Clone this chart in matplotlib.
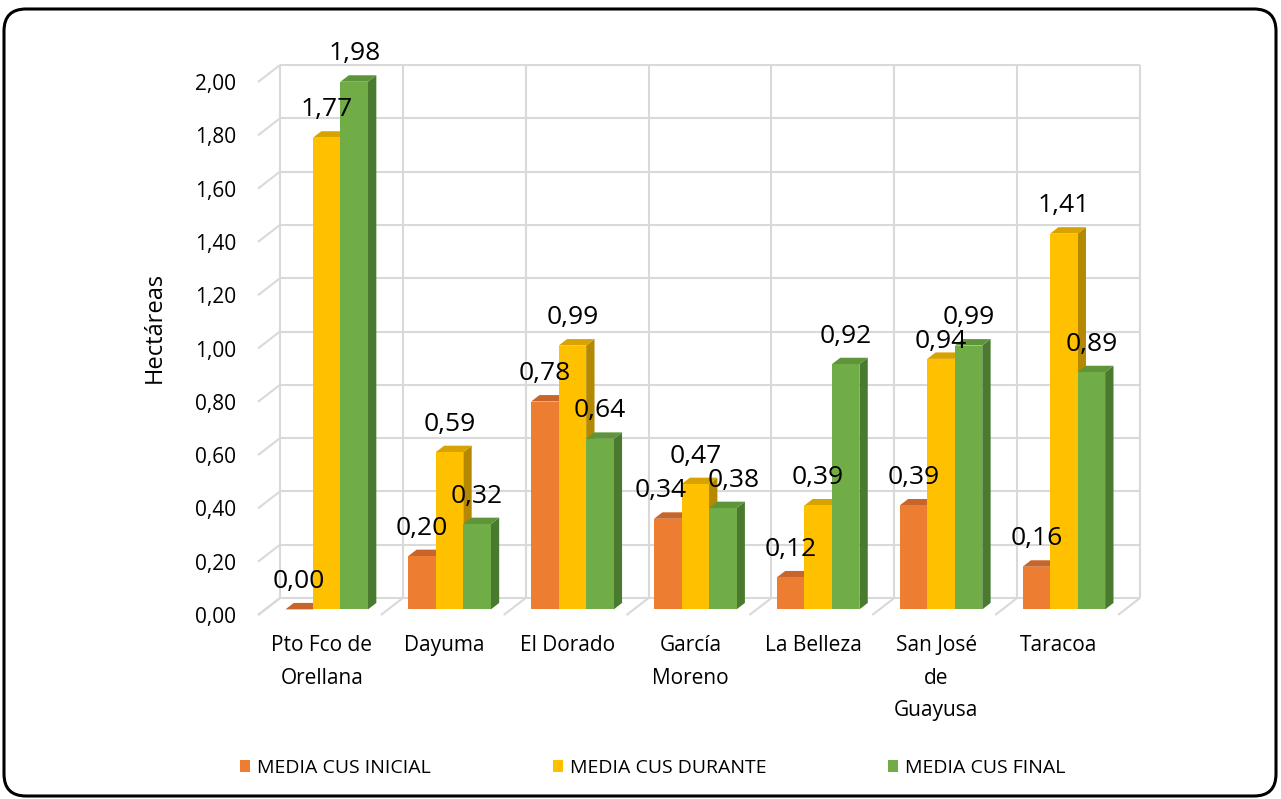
import matplotlib
matplotlib.use("Agg")
import matplotlib.pyplot as plt
from matplotlib.patches import Polygon, Rectangle, FancyBboxPatch
import numpy as np

# ---- data -------------------------------------------------------------
categories = ["Pto Fco de\nOrellana", "Dayuma", "El Dorado", "García\nMoreno",
              "La Belleza", "San José\nde\nGuayusa", "Taracoa"]
series_names = ["MEDIA CUS INICIAL", "MEDIA CUS DURANTE", "MEDIA CUS FINAL"]
cus_inicial = [0.00, 0.20, 0.78, 0.34, 0.12, 0.39, 0.16]
cus_durante = [1.77, 0.59, 0.99, 0.47, 0.39, 0.94, 1.41]
cus_final = [1.98, 0.32, 0.64, 0.38, 0.92, 0.99, 0.89]
y_ticks = [0.0, 0.2, 0.4, 0.6, 0.8, 1.0, 1.2, 1.4, 1.6, 1.8, 2.0]
y_label = "Hectáreas"

series = [cus_inicial, cus_durante, cus_final]
front_colors = ["#ED7D31", "#FFC000", "#70AD47"]
top_colors = ["#C8652A", "#D8A300", "#5E953B"]
side_colors = ["#AC531E", "#B48800", "#4A7A2F"]

# small nudges (category units, hectares) that keep crowded value labels apart
label_nudge = {(3, 0): (-0.06, 0.0), (3, 2): (0.09, 0.0), (5, 1): (0.0, -0.04)}

FONT = "Open Sans"
plt.rcParams["font.family"] = [FONT, "DejaVu Sans"]

W, H, DPI = 1281, 799, 100
fig = plt.figure(figsize=(W / DPI, H / DPI), dpi=DPI)
fig.patch.set_facecolor("white")

# scale of the plot area (pixels per category / per hectare)
PPX = 122.86
PPY = 266.5
x0_px = 258 + 0.5 * PPX          # pixel column of the first category centre
y0_px = H - 615                  # pixel row of value 0 (from bottom)

ax = fig.add_axes([0, 0, 1, 1])
ax.set_xlim(-x0_px / PPX, (W - x0_px) / PPX)
ax.set_ylim(-y0_px / PPY, (H - y0_px) / PPY)
ax.axis("off")

# depth of the 3-D box
DX, DY = 22 / PPX, 17 / PPY
n = len(categories)
left, right = -0.5, n - 0.5
ymax = y_ticks[-1]
grid_kw = dict(color="#D9D9D9", lw=1.5, zorder=1, solid_capstyle="butt")

# back wall horizontal lines and left wall diagonals
for v in y_ticks:
    ax.plot([left + DX, right + DX], [v + DY, v + DY], **grid_kw)
    ax.plot([left, left + DX], [v, v + DY], **grid_kw)
    ax.text(left - 0.175, v, f"{v:.2f}".replace(".", ","), ha="right",
            va="center_baseline", fontsize=15, color="black")

# back wall verticals and floor dividers
for k in range(n + 1):
    xb = left + k + DX
    ax.plot([xb, xb], [DY, ymax + DY], **grid_kw)
    ax.plot([left + k, xb], [0, DY], **grid_kw)

# ---- 3-D columns ------------------------------------------------------
bw = 0.224
f1, f2 = 0.33, 0.71
bdx, bdy = (f2 - f1) * DX, (f2 - f1) * DY
xs = np.arange(n)
base = f1 * DY
for j, vals in enumerate(series):
    xc = xs + (j - 1) * bw + f1 * DX
    bars = ax.bar(xc, vals, width=bw, bottom=base, color=front_colors[j],
                  edgecolor="none")
    for i, (v, r) in enumerate(zip(vals, bars)):
        z = 3 + i * 0.1 + j * 0.01
        r.set_zorder(z + 0.005)
        xl, xr = xc[i] - bw / 2, xc[i] + bw / 2
        yt = v + base
        top = Polygon([(xl, yt), (xr, yt), (xr + bdx, yt + bdy), (xl + bdx, yt + bdy)],
                      closed=True, facecolor=top_colors[j], edgecolor="none", zorder=z)
        side = Polygon([(xr, base), (xr, yt), (xr + bdx, yt + bdy), (xr + bdx, base + bdy)],
                       closed=True, facecolor=side_colors[j], edgecolor="none", zorder=z)
        ax.add_patch(side)
        ax.add_patch(top)

# value labels
for j, vals in enumerate(series):
    xc = xs + (j - 1) * bw + f1 * DX
    for i, v in enumerate(vals):
        nx, ny = label_nudge.get((i, j), (0.0, 0.0))
        ax.text(xc[i] + nx, v + base + 0.105 + ny, f"{v:.2f}".replace(".", ","),
                ha="center", va="center", fontsize=19, color="black", zorder=10)

# category labels
for i, lab in enumerate(categories):
    ax.text(i + 0.02, -20 / PPY, lab, ha="center", va="top", fontsize=15,
            linespacing=1.72, color="black")

# axis title
fig.text(155 / W, 1 - 327 / H, y_label, rotation=90, ha="center", va="center",
         fontsize=17, color="black")

# legend
legend_x = [240, 553, 888]
for j, name in enumerate(series_names):
    fig.add_artist(Rectangle((legend_x[j] / DPI, (H - 772) / DPI), 10 / DPI, 12 / DPI,
                             transform=fig.dpi_scale_trans, facecolor=front_colors[j],
                             edgecolor="none"))
    fig.text((legend_x[j] + 17) / W, 1 - 766 / H, name, ha="left", va="center_baseline",
             fontsize=14, color="black")

# rounded outer frame
frame = FancyBboxPatch((4 / DPI, 3 / DPI), 1272 / DPI, 787 / DPI,
                       boxstyle=f"round,pad=0,rounding_size={22 / DPI}",
                       transform=fig.dpi_scale_trans, facecolor="none",
                       edgecolor="black", lw=2.2)
fig.add_artist(frame)

fig.savefig("out.png", dpi=DPI)
